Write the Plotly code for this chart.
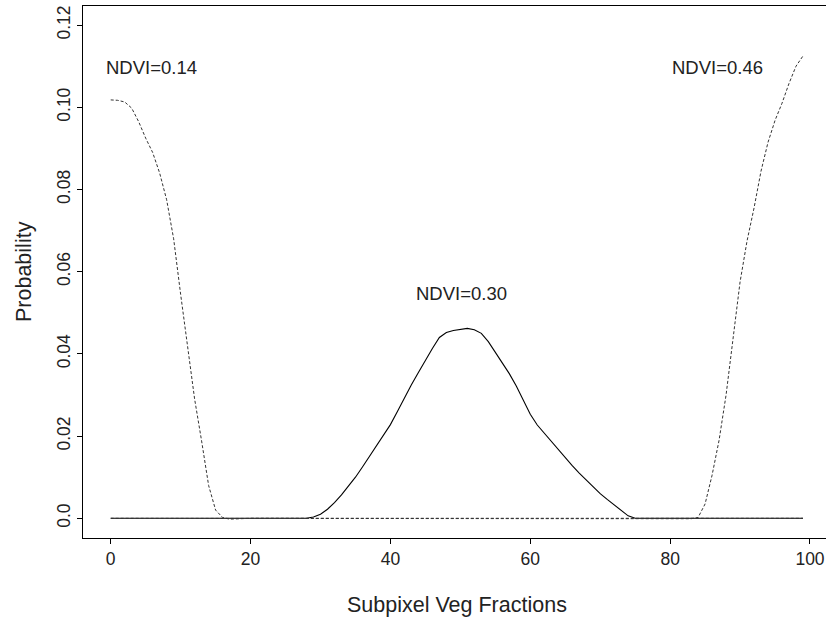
import plotly.graph_objects as go

# Subpixel vegetation fraction (x) values
fractions = list(range(0, 100))

# NDVI = 0.14 (dashed, left)
ndvi014 = [0.1018, 0.1017, 0.1013, 0.0998, 0.0965, 0.0925, 0.0890, 0.0840, 0.0775, 0.0680,
           0.0545, 0.0418, 0.0290, 0.0188, 0.0080, 0.0020, 0.0002, -0.0002, -0.0001] + [0.0] * 81

# NDVI = 0.30 (solid, centre)
ndvi030 = ([0.0] * 29 +
           [0.0003, 0.0010, 0.0022, 0.0038, 0.0057, 0.0078, 0.0100, 0.0125, 0.0150, 0.0178,
            0.0203, 0.0228, 0.0260, 0.0294, 0.0325, 0.0355, 0.0385, 0.0413, 0.0440, 0.0452,
            0.0457, 0.0459, 0.0462, 0.0459, 0.0450, 0.0430, 0.0405, 0.0378, 0.0352, 0.0322,
            0.0288, 0.0253, 0.0227, 0.0207, 0.0187, 0.0166, 0.0146, 0.0128, 0.0110, 0.0093,
            0.0076, 0.0060, 0.0046, 0.0032, 0.0018, 0.0006] +
           [0.0] * 25)

# NDVI = 0.46 (dashed, right)
ndvi046 = ([0.0] * 83 +
           [-0.0001, 0.0002, 0.0035, 0.0105, 0.0190, 0.0300, 0.0440, 0.0575, 0.0675, 0.0755,
            0.0845, 0.0915, 0.0968, 0.1010, 0.1058, 0.1100, 0.1125])

x_ticks = [0, 20, 40, 60, 80, 100]
y_ticks = [0.0, 0.02, 0.04, 0.06, 0.08, 0.10, 0.12]
y_ticktext = ["0.0", "0.02", "0.04", "0.06", "0.08", "0.10", "0.12"]

labels = ["NDVI=0.14", "NDVI=0.30", "NDVI=0.46"]
label_x = [5.8, 50.1, 86.8]
label_y = [0.1098, 0.0548, 0.1098]

FONT = "Liberation Sans, Arial, Helvetica, sans-serif"

fig = go.Figure()
fig.add_trace(go.Scatter(x=fractions, y=ndvi030, mode="lines",
                         line=dict(color="black", width=1.1), showlegend=False))
fig.add_trace(go.Scatter(x=fractions, y=ndvi014, mode="lines",
                         line=dict(color="#333333", width=1, dash="3px,2px"), showlegend=False))
fig.add_trace(go.Scatter(x=fractions, y=ndvi046, mode="lines",
                         line=dict(color="#333333", width=1, dash="3px,2px"), showlegend=False))

for t, lx, ly in zip(labels, label_x, label_y):
    fig.add_annotation(x=lx, y=ly, text=t, showarrow=False,
                       font=dict(family=FONT, size=18.5, color="#222222"),
                       xanchor="center", yanchor="middle")

fig.add_annotation(xref="paper", yref="paper", x=0.5034, y=-0.126,
                   text="Subpixel Veg Fractions", showarrow=False,
                   font=dict(family=FONT, size=21.5, color="#222222"),
                   xanchor="center", yanchor="middle")
fig.add_annotation(xref="paper", yref="paper", x=-0.0794, y=0.5,
                   text="Probability", showarrow=False, textangle=-90,
                   font=dict(family=FONT, size=21.5, color="#222222"),
                   xanchor="center", yanchor="middle")

fig.update_layout(
    width=826, height=619,
    margin=dict(l=83, r=0, t=6, b=81),
    paper_bgcolor="white", plot_bgcolor="white",
    font=dict(family=FONT, color="#222222"),
    xaxis=dict(range=[-3.963, 102.29], tickvals=x_ticks, ticks="outside", ticklen=5,
               tickcolor="black", showline=True, linecolor="black", linewidth=1,
               mirror=True, showgrid=False, zeroline=False,
               tickfont=dict(family=FONT, size=17.5, color="#222222")),
    yaxis=dict(range=[-0.00479, 0.12465], tickvals=y_ticks, ticktext=y_ticktext,
               ticks="outside", ticklen=5, tickcolor="black", tickangle=-90,
               showline=True, linecolor="black", linewidth=1, mirror=False,
               showgrid=False, zeroline=False,
               tickfont=dict(family=FONT, size=17.5, color="#222222")),
)

fig.write_html("out.html")
